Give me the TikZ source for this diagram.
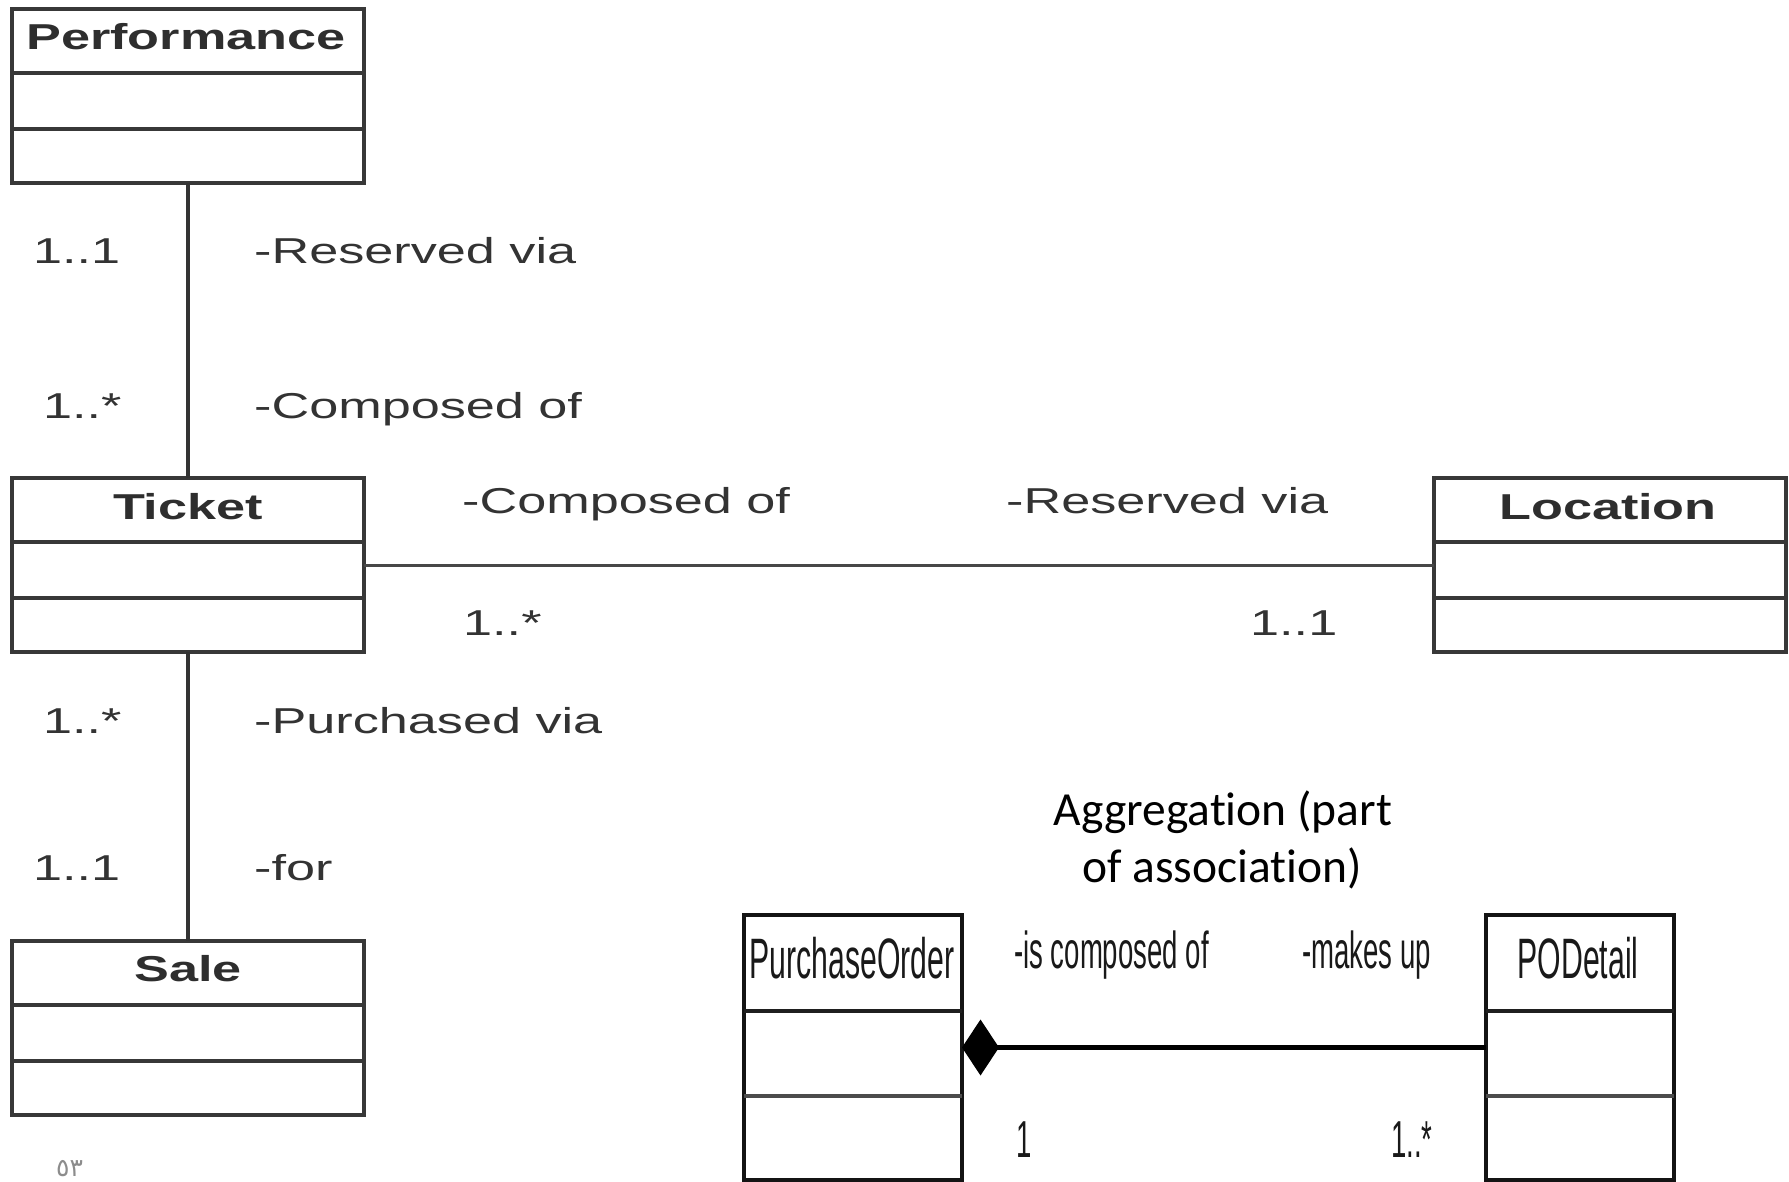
\documentclass[tikz,border=0pt]{standalone}
\usepackage{graphicx}
\usepackage{fontspec}
\setmainfont{Liberation Sans}
\newfontfamily\calfont[Ligatures=NoCommon]{Carlito}
\newfontfamily\arabicfont[Script=Arabic]{DejaVu Sans}
\usetikzlibrary{arrows.meta}

% wide lettering of the ticket model, narrow lettering of the order model
\newcommand{\widetxt}[1]{\scalebox{1.45}[1]{#1}}
\newcommand{\narrowtxt}[1]{\scalebox{0.53}[1]{#1}}

\begin{document}
\begin{tikzpicture}[x=1pt, y=-1pt,
  cls/.style={draw=black!78, line width=4pt, anchor=north west, outer sep=0pt,
              inner sep=0pt, minimum width=352pt, minimum height=174pt},
  ocls/.style={draw=black!92, line width=4pt, anchor=north west, outer sep=0pt,
              inner sep=0pt, minimum height=265pt},
  div/.style={draw=black!78, line width=3.5pt},
  odiv/.style={draw=black!88, line width=4pt},
  assoc/.style={draw=black!80, line width=4pt},
  assocthin/.style={draw=black!72, line width=3pt},
  comp/.style={draw=black, line width=4.5pt, {Diamond[length=37pt,width=56pt]}-},
  ttl/.style={anchor=base, inner sep=0pt, text=black!82,
              font=\fontsize{36}{40}\selectfont\bfseries},
  lab/.style={anchor=base west, inner sep=0pt, text=black!80,
              font=\fontsize{36}{40}\selectfont},
  ottl/.style={anchor=base, inner sep=0pt, text=black!90,
              font=\fontsize{57}{60}\selectfont},
  olab/.style={anchor=base west, inner sep=0pt, text=black!90,
              font=\fontsize{52}{56}\selectfont},
  note/.style={anchor=base, inner sep=0pt, text=black,
              font=\calfont\fontsize{47.5}{50}\selectfont}
]
\useasboundingbox (0,0) rectangle (1789,1182);
\fill[white] (0,0) rectangle (1789,1182);

% ---- classes of the ticket model ----
\node[cls] (perf)   at (12,9)     {};
\node[cls] (ticket) at (12,478)   {};
\node[cls] (sale)   at (12,941)   {};
\node[cls] (loc)    at (1434,478) {};
\foreach \c in {perf,ticket,sale,loc}{
  \draw[div] ([yshift=-64pt]\c.north west) -- ([yshift=-64pt]\c.north east);
  \draw[div] ([yshift=-120pt]\c.north west) -- ([yshift=-120pt]\c.north east);
}
\node[ttl] (perfT)   at (186,50)   {\widetxt{Performance}};
\node[ttl] (ticketT) at (188,519)  {\widetxt{Ticket}};
\node[ttl] (saleT)   at (188,981)  {\widetxt{Sale}};
\node[ttl] (locT)    at (1608,519) {\widetxt{Location}};

% ---- associations ----
\draw[assoc] (perf.south) -- (ticket.north);
\draw[assoc] (ticket.south) -- (sale.north);
\draw[assocthin] (ticket.east) -- (loc.west);

% ---- role names and multiplicities ----
\node[lab] (m1) at (33,264)   {\widetxt{1..1}};
\node[lab] (r1) at (254,264)  {\widetxt{-Reserved via}};
\node[lab] (m2) at (43,418)   {\widetxt{1..*}};
\node[lab] (c1) at (254,418)  {\widetxt{-Composed of}};
\node[lab] (c2) at (462,513)  {\widetxt{-Composed of}};
\node[lab] (r2) at (1006,513) {\widetxt{-Reserved via}};
\node[lab] (m3) at (463,635)  {\widetxt{1..*}};
\node[lab] (m4) at (1250,635) {\widetxt{1..1}};
\node[lab] (m5) at (43,733)   {\widetxt{1..*}};
\node[lab] (p1) at (254,733)  {\widetxt{-Purchased via}};
\node[lab] (m6) at (33,880)   {\widetxt{1..1}};
\node[lab] (f1) at (254,880)  {\widetxt{-for}};

% ---- composition example ----
\node[note] (agg1) at (1223,825) {Aggregation (part};
\node[note] (agg2) at (1222,882) {of association)};

\node[ocls, minimum width=218pt] (po)  at (744,915)  {};
\node[ocls, minimum width=188pt] (pod) at (1486,915) {};
\foreach \c in {po,pod}{
  \draw[odiv] ([yshift=-96pt]\c.north west) -- ([yshift=-96pt]\c.north east);
  \draw[odiv, draw=black!70] ([yshift=-181pt]\c.north west) -- ([yshift=-181pt]\c.north east);
}
\node[ottl] (poT)  at (852,978)  {\narrowtxt{PurchaseOrder}};
\node[ottl] (podT) at (1578,978) {\narrowtxt{PODetail}};

\draw[comp] (po.east) -- (pod.west);

\node[olab] (is)  at (1014,968)  {\narrowtxt{-is composed of}};
\node[olab] (mk)  at (1302,968)  {\narrowtxt{-makes up}};
\node[olab] (o1)  at (1016,1157) {\narrowtxt{1}};
\node[olab] (o2)  at (1391,1157) {\narrowtxt{1..*}};

% ---- page number ----
\node[anchor=base west, inner sep=0pt, text=black!45,
      font=\arabicfont\fontsize{25}{27}\selectfont] (pg) at (56,1176) {٥٣};
\end{tikzpicture}
\end{document}
